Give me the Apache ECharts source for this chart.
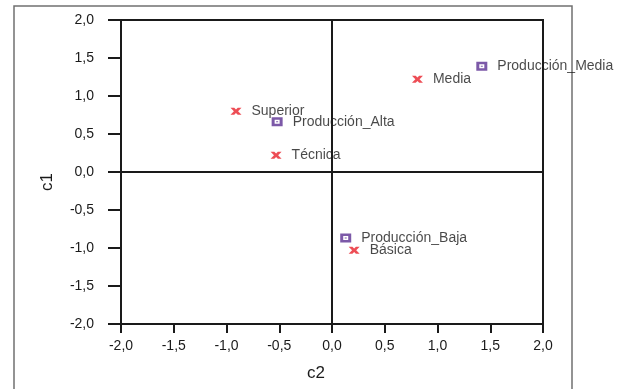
<!DOCTYPE html>
<html>
<head>
<meta charset="utf-8">
<script src="https://cdn.jsdelivr.net/npm/echarts@6/dist/echarts.min.js"></script>
<style>
  html, body { margin: 0; padding: 0; background: #fff; }
  #chart { width: 628px; height: 389px; }
</style>
</head>
<body>
<div id="chart"></div>
<script>
// Category points (red crosses): [c2, c1]
const categoryNames = ['Superior', 'Técnica', 'Media', 'Básica'];
const categoryC2 = [-0.91, -0.53, 0.81, 0.21];
const categoryC1 = [0.80, 0.22, 1.22, -1.03];

// Production levels (purple squares): [c2, c1]
const productionNames = ['Producción_Alta', 'Producción_Media', 'Producción_Baja'];
const productionC2 = [-0.52, 1.42, 0.13];
const productionC1 = [0.66, 1.39, -0.87];

// Tick labels with decimal comma
const tickValues = [-2, -1.5, -1, -0.5, 0, 0.5, 1, 1.5, 2];
const tickLabels = ['-2,0', '-1,5', '-1,0', '-0,5', '0,0', '0,5', '1,0', '1,5', '2,0'];

const FONT = '"Liberation Sans", Arial, sans-serif';
const INK = '#1a1a1a';
const FS = 14;

function tickText(v) {
  const i = tickValues.findIndex(t => Math.abs(t - v) < 1e-9);
  return i >= 0 ? tickLabels[i] : '';
}

// bold "x" cross and framed square glyphs
const crossPath = 'path://M0,0L3.4,0L5,1.7L6.6,0L10,0L6.9,3.5L10,7L6.6,7L5,5.3L3.4,7L0,7L3.1,3.5Z';
const boxPath = 'path://M0,0H11V9H0Z M3,2.5V6.5H8V2.5Z M4.5,4H6.5V5H4.5Z';

const chart = echarts.init(document.getElementById('chart'), null, { renderer: 'canvas' });

const axisCommon = {
  type: 'value',
  min: -2,
  max: 2,
  interval: 0.5,
  splitLine: { show: false },
  axisLine: { show: true, onZero: false, lineStyle: { color: INK, width: 2 } },
  axisTick: { show: true, inside: false, lineStyle: { color: INK, width: 2 } },
  axisLabel: {
    color: INK,
    fontFamily: FONT,
    fontSize: FS,
    formatter: tickText
  }
};

chart.setOption({
  animation: false,
  backgroundColor: '#fff',
  grid: {
    left: 121, top: 20, width: 422, height: 304,
    show: true, borderColor: INK, borderWidth: 2, backgroundColor: 'transparent'
  },
  xAxis: Object.assign({}, axisCommon, {
    position: 'bottom',
    axisTick: Object.assign({}, axisCommon.axisTick, { length: 9 }),
    axisLabel: Object.assign({}, axisCommon.axisLabel, { margin: 15 })
  }),
  yAxis: Object.assign({}, axisCommon, {
    position: 'left',
    axisTick: Object.assign({}, axisCommon.axisTick, { length: 13 }),
    axisLabel: Object.assign({}, axisCommon.axisLabel, { margin: 27 })
  }),
  graphic: [
    {
      type: 'rect',
      shape: { x: 14, y: 6, width: 558, height: 400 },
      style: { fill: 'none', stroke: '#707070', lineWidth: 1.5 },
      silent: true
    },
    {
      type: 'text',
      left: 307, top: 365,
      style: { text: 'c2', fontSize: 17, fontFamily: FONT, fill: INK }
    },
    {
      type: 'text',
      x: 47, y: 182,
      rotation: Math.PI / 2,
      style: {
        text: 'c1', fontSize: 17, fontFamily: FONT, fill: INK,
        align: 'center', verticalAlign: 'middle'
      }
    }
  ],
  series: [
    {
      name: 'zero',
      type: 'scatter',
      data: [],
      silent: true,
      markLine: {
        silent: true,
        symbol: 'none',
        label: { show: false },
        lineStyle: { color: INK, width: 2, type: 'solid' },
        data: [{ xAxis: 0 }, { yAxis: 0 }]
      }
    },
    {
      name: 'categorias',
      type: 'scatter',
      symbol: crossPath,
      symbolSize: [11, 7],
      itemStyle: { color: '#e8202a' },
      label: {
        show: true,
        position: 'right',
        distance: 10,
        color: INK,
        fontFamily: FONT,
        fontSize: FS,
        formatter: p => p.name
      },
      data: categoryNames.map((n, i) => ({ name: n, value: [categoryC2[i], categoryC1[i]] }))
    },
    {
      name: 'produccion',
      type: 'scatter',
      symbol: boxPath,
      symbolSize: [11, 9],
      itemStyle: { color: '#5b2f92' },
      label: {
        show: true,
        position: 'right',
        distance: 10,
        color: INK,
        fontFamily: FONT,
        fontSize: FS,
        formatter: p => p.name
      },
      data: productionNames.map((n, i) => ({ name: n, value: [productionC2[i], productionC1[i]] }))
    }
  ]
});
</script>
</body>
</html>
